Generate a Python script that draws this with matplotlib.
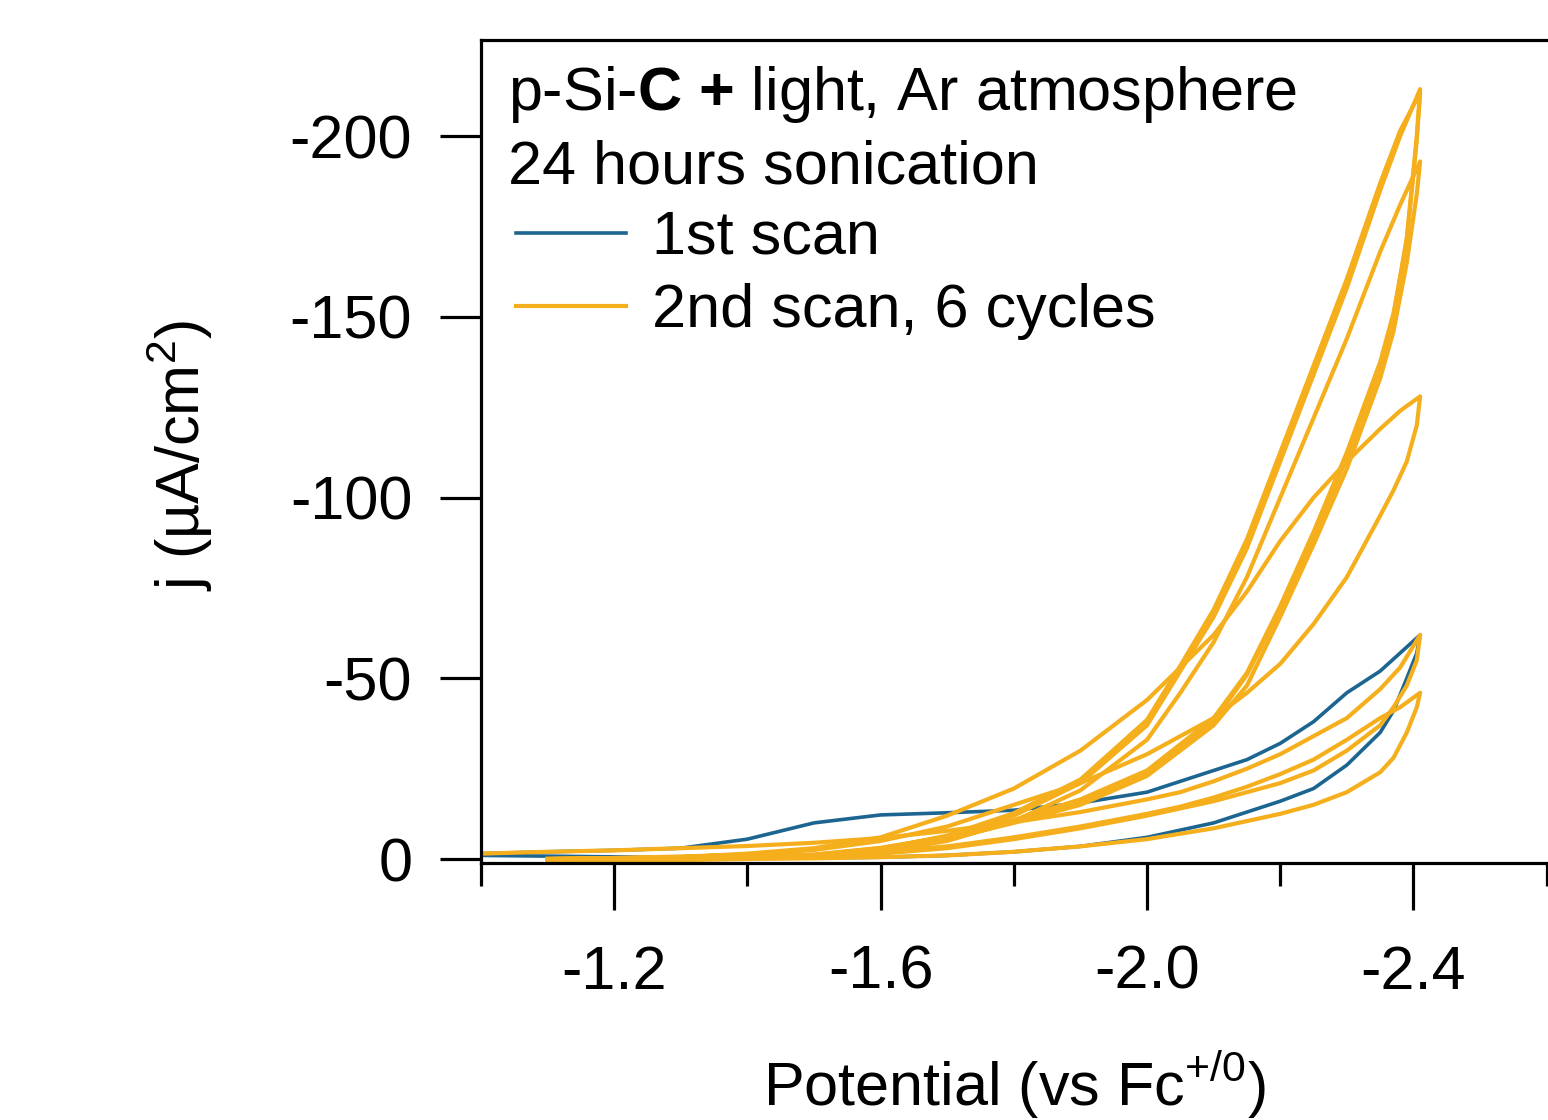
import matplotlib
matplotlib.use('Agg')
import matplotlib.pyplot as plt
from matplotlib.lines import Line2D

nan = float('nan')

plt.rcParams['font.family'] = 'Liberation Sans'
plt.rcParams['mathtext.fontset'] = 'custom'
plt.rcParams['mathtext.rm'] = 'Liberation Sans'
plt.rcParams['mathtext.bf'] = 'Liberation Sans:bold'
plt.rcParams['axes.unicode_minus'] = False

BLUE = '#1D6591'
ORANGE = '#F5AF1D'

# potential (V vs Fc+/0): sweep out to the turning point, then back
E_out = [-1.0, -1.1, -1.2, -1.3, -1.4, -1.5, -1.6, -1.7, -1.8, -1.9, -2.0,
         -2.05, -2.1, -2.15, -2.2, -2.25, -2.3, -2.35, -2.38, -2.41]
E_back = [-2.41, -2.405, -2.39, -2.37, -2.35, -2.3, -2.25, -2.2, -2.15, -2.1,
          -2.0, -1.9, -1.8, -1.7, -1.6, -1.5, -1.4, -1.3, -1.2, -1.1, -1.0]

# 1st scan, j in uA/cm2
scan1_out = [-1.5, -2.0, -2.4, -3.0, -5.5, -10.0, -12.2, -12.8, -13.5, -15.5, -18.5,
             -21.5, -24.5, -27.5, -32, -38, -46, -52, -57, -62]
scan1_back = [-62, -57, -50, -41, -35, -26, -19.5, -16, -13, -10, -6, -3.5, -2, -1,
              -0.5, -0.3, -0.3, -0.4, -0.6, -0.8, -1.0]

# 2nd scan, 6 cycles
cyc1_out = [-1.5, -2.0, -2.4, -3.0, -3.6, -4.5, -5.8, -7.8, -10.2, -13, -16.5,
            -18.5, -21.5, -25, -29, -34, -39, -47, -53, -62]
cyc1_back = [-62, -55, -48, -42, -37, -30, -24.5, -21, -18.5, -16, -12, -8.5, -5.5,
             -3, -1.5, -0.8, -0.4, -0.2, 0, 0, nan]
cyc2_out = [nan, 0, -0.2, -0.5, -1.5, -3, -6, -12, -19.5, -30, -44,
            -53, -62, -74, -88, -100, -110, -119, -124, -128]
cyc2_back = [-128, -120, -110, -102, -95, -78, -65, -54, -46, -39, -29, -21, -15,
             -9, -5, -2.5, -1.2, -0.7, -0.3, 0, nan]
cyc3_out = [nan, 0, -0.1, -0.3, -0.6, -1, -2.5, -6, -12, -21, -37,
            -52, -67, -86, -110, -134, -158, -185, -200, -213]
cyc3_back = [-213, -200, -172, -150, -136, -111, -89, -69, -51, -38, -24, -16, -10.5,
             -6, -3, -1.2, -0.6, -0.3, -0.1, 0, nan]
cyc4_out = [nan, 0, -0.1, -0.3, -0.6, -1.1, -2.7, -6.5, -12.7, -22, -38.5,
            -53.5, -69, -88.5, -112.5, -136.5, -160.5, -187, -201.5, -212]
cyc4_back = [-212, -199, -171, -151, -137.5, -112.5, -90.5, -70, -51.5, -39, -24.5, -16.5,
             -10.8, -6.2, -3.1, -1.2, -0.6, -0.3, -0.1, 0, nan]
cyc5_out = [nan, 0, -0.1, -0.2, -0.5, -0.8, -2, -5, -10.5, -19, -33,
            -46, -60, -78, -100, -122, -144, -168, -181, -193]
cyc5_back = [-193, -184, -165, -146, -133, -108, -87, -67, -48, -37, -23, -15, -10,
             -5.5, -2.8, -1, -0.5, -0.2, 0, 0, nan]
cyc6_out = [nan, 0, 0, -0.2, -0.5, -1, -2, -3.5, -6, -9, -12.5,
            -14.5, -17, -20, -23.5, -27.5, -33, -39, -42, -46]
cyc6_back = [-46, -42, -35, -28, -24, -18.5, -15, -12.5, -10.5, -8.5, -5.5, -3.5, -2,
             -1, -0.5, -0.2, 0, 0.3, 0.5, 0.5, nan]

cycles = [(cyc1_out, cyc1_back), (cyc2_out, cyc2_back), (cyc3_out, cyc3_back),
          (cyc4_out, cyc4_back), (cyc5_out, cyc5_back), (cyc6_out, cyc6_back)]

x_major = [-1.2, -1.6, -2.0, -2.4]
x_major_labels = ['-1.2', '-1.6', '-2.0', '-2.4']
x_minor = [-1.0, -1.4, -1.8, -2.2, -2.6]
y_major = [0, -50, -100, -150, -200]
y_major_labels = ['0', '-50', '-100', '-150', '-200']

W, H = 1548, 1120
fig = plt.figure(figsize=(W / 100, H / 100), dpi=100)
# right edge of the frame runs just past the picture
ax = fig.add_axes([481 / W, 1 - 863 / H, (1560 - 481) / W, (863 - 40) / H])

ax.plot(E_out + E_back, scan1_out + scan1_back, color=BLUE, lw=2.6)
for out, back in cycles:
    ax.plot(E_out + E_back, out + back, color=ORANGE, lw=3.0)

ax.set_xlim(-1.0, -2.62)
ax.set_ylim(1.1, -226.6)

for s in ax.spines.values():
    s.set_linewidth(2.3)
ax.spines['right'].set_visible(False)

ax.set_xticks(x_major)
ax.set_xticklabels(x_major_labels)
ax.set_xticks(x_minor, minor=True)
ax.set_yticks(y_major)
ax.set_yticklabels(y_major_labels)
ax.tick_params(axis='x', which='major', direction='out', length=34, width=2.3,
               labelsize=44, pad=25)
ax.tick_params(axis='x', which='minor', direction='out', length=16.5, width=2.3)
ax.tick_params(axis='y', which='major', direction='out', length=29.5, width=2.3,
               labelsize=44, pad=20)

fig.text(1014 / W, 1 - 1085 / H, r'Potential (vs Fc$^{+/0}$)', fontsize=44,
         ha='center', va='center')
fig.text(180 / W, 1 - 455 / H, r'j (µA/cm$^{2}$)', fontsize=44, rotation=90,
         ha='center', va='center')

fig.text(508 / W, 1 - 110 / H, r'p-Si-$\mathbf{C}$ $\mathbf{+}$ light, Ar atmosphere',
         fontsize=44, ha='left', va='baseline')
fig.text(508 / W, 1 - 183 / H, '24 hours sonication', fontsize=44,
         ha='left', va='baseline')

handles = [Line2D([], [], color=BLUE, lw=2.6), Line2D([], [], color=ORANGE, lw=3.0)]
ax.legend(handles, ['1st scan', '2nd scan, 6 cycles'], loc='upper left',
          bbox_to_anchor=(516 / W, 1 - 210 / H), bbox_transform=fig.transFigure,
          frameon=False, fontsize=44, handlelength=1.8, handletextpad=0.42,
          labelspacing=0.26, borderpad=0, borderaxespad=0)

fig.savefig('out.png', dpi=100)
plt.close(fig)
